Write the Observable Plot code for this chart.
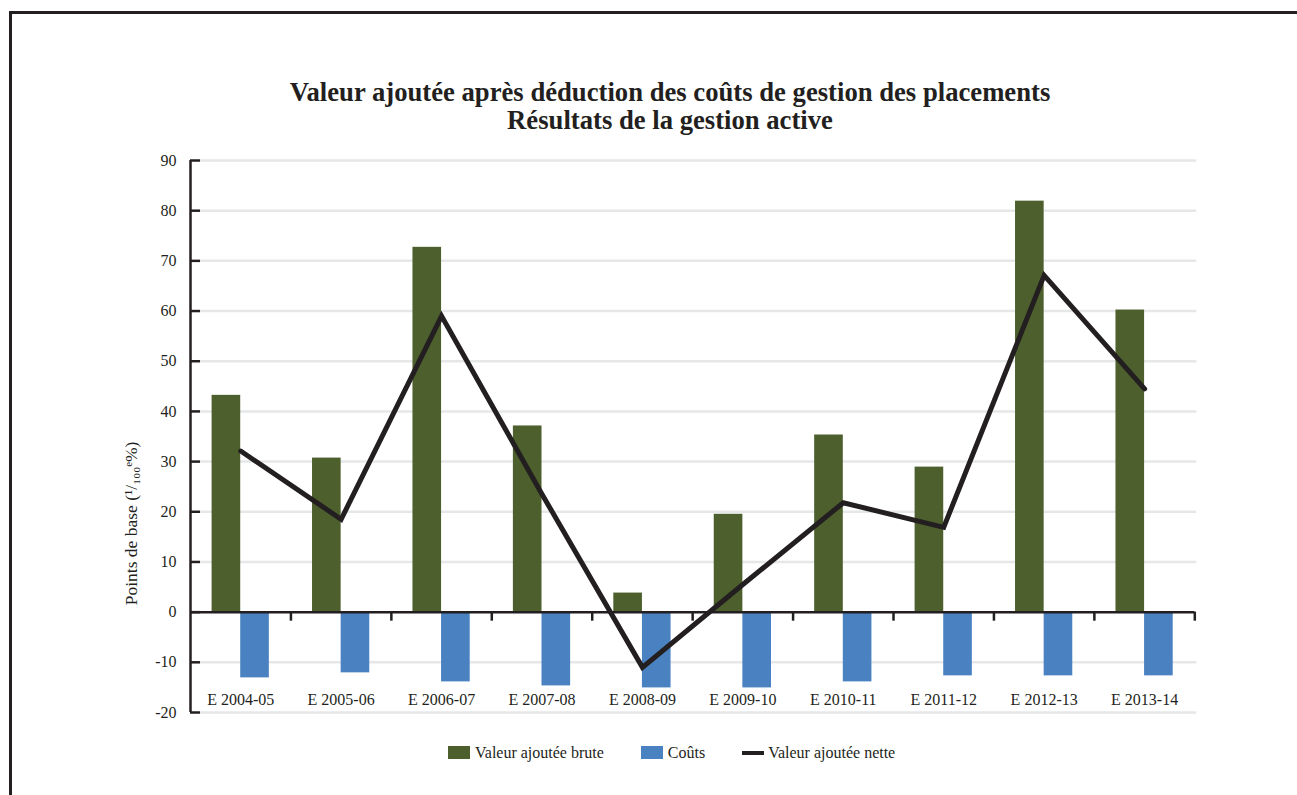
<!DOCTYPE html>
<html>
<head>
<meta charset="utf-8">
<script src="https://cdn.jsdelivr.net/npm/d3@7"></script>
<script src="https://cdn.jsdelivr.net/npm/@observablehq/plot@0.6"></script>
<style>
  html, body { margin: 0; padding: 0; background: #fff; }
  body { width: 1297px; height: 795px; position: relative; overflow: hidden; font-family: "Liberation Serif", "Times New Roman", "DejaVu Serif", serif; color: #231f20; }
  #frame { position: absolute; left: 9px; top: 11px; right: -10px; bottom: -10px; border-top: 3px solid #231f20; border-left: 3px solid #231f20; }
  #title { position: absolute; left: 0; top: 78px; width: 1340px; text-align: center; font-weight: bold; font-size: 27px; line-height: 28px; transform-origin: 670px 0; white-space: nowrap; }
  #chart { position: absolute; left: 0; top: 140px; }
  #legend { position: absolute; left: 448px; top: 744px; display: flex; align-items: center; font-size: 16px; height: 17px; white-space: nowrap; }
  .item { display: flex; align-items: center; margin-right: 37px; }
  .sw { width: 22px; height: 13px; margin-right: 5px; }
  .ln { width: 22px; height: 4px; margin-right: 4px; background: #231f20; }
</style>
</head>
<body>
<div id="frame"></div>
<div id="title"><div>Valeur ajoutée après déduction des coûts de gestion des placements</div><div>Résultats de la gestion active</div></div>
<div id="chart"></div>
<div id="legend"></div>
<script>
// ---- Data ----
const categories = ["E 2004-05", "E 2005-06", "E 2006-07", "E 2007-08", "E 2008-09", "E 2009-10", "E 2010-11", "E 2011-12", "E 2012-13", "E 2013-14"];
const brute = [43.2, 30.7, 72.7, 37.1, 3.8, 19.5, 35.3, 28.9, 81.9, 60.2];
const couts = [-13.1, -12.1, -13.9, -14.7, -15.1, -15.1, -13.9, -12.7, -12.7, -12.7];
const nette = [32.1, 18.5, 59.0, 23.5, -11.0, 5.5, 21.8, 16.9, 67.1, 44.5];
const yTicks = [-20, -10, 0, 10, 20, 30, 40, 50, 60, 70, 80, 90];
const seriesNames = ["Valeur ajoutée brute", "Coûts", "Valeur ajoutée nette"];
const yLabel = "Points de base (¹/₁₀₀ᵉ%)";

// ---- Styles ----
const GREEN = "#4c5f2d", BLUE = "#4a81c1", INK = "#231f20", GRID = "#e6e7e8";
const FONT = "'Liberation Serif', 'Times New Roman', 'DejaVu Serif', serif";
const half = 0.285;

const rows = categories.map((c, i) => ({i, cat: c, brute: brute[i], couts: couts[i], nette: nette[i]}));
const idx = rows.map(d => d.i);

const chart = Plot.plot({
  width: 1297,
  height: 600,
  marginLeft: 190,
  marginRight: 102.7,
  marginTop: 20,
  marginBottom: 28,
  x: {type: "linear", domain: [-0.5, categories.length - 0.5], axis: null},
  y: {domain: [-20, 90], axis: null},
  style: {fontFamily: FONT, fontSize: "16px", color: INK, background: "transparent", overflow: "visible"},
  marks: [
    Plot.ruleY(yTicks.filter(d => d !== 0), {y: d => d, x1: -0.4, x2: categories.length - 0.48, stroke: GRID, strokeWidth: 2.5}),
    Plot.rect(rows, {x1: d => d.i - half, x2: d => d.i, y1: 0, y2: "brute", fill: GREEN}),
    Plot.rect(rows, {x1: d => d.i, x2: d => d.i + half, y1: 0, y2: "couts", fill: BLUE}),
    Plot.ruleY([0], {x1: -0.5, x2: categories.length - 0.5, stroke: INK, strokeWidth: 2.5}),
    Plot.ruleX(idx, {x: d => d + 0.5, y1: 0, y2: -1.8, stroke: INK, strokeWidth: 2.5}),
    Plot.ruleX([-0.5], {y1: -20, y2: 90, stroke: INK, strokeWidth: 2.5}),
    Plot.axisY({ticks: yTicks, tickFormat: d => String(d), tickSize: 10, dx: 10, tickPadding: 14, strokeWidth: 2.5, stroke: INK, fill: INK, label: null, fontSize: 16, fontFamily: FONT}),
    Plot.axisX({ticks: idx, tickFormat: i => categories[i], tickSize: 0, tickPadding: 0, dy: -19, label: null, fill: INK, fontSize: 16, fontFamily: FONT}),
    Plot.line(rows, {x: "i", y: "nette", stroke: INK, strokeWidth: 5, strokeLinejoin: "miter", strokeMiterlimit: 10}),
    Plot.text([yLabel], {frameAnchor: "left", rotate: -90, dx: -59, dy: 87, textAnchor: "middle", fill: INK, fontSize: 17.5, fontFamily: FONT})
  ]
});
document.getElementById("chart").appendChild(chart);

// ---- Title condensing (fit reference width) ----
const ctx = document.createElement("canvas").getContext("2d");
ctx.font = "bold 27px 'Liberation Serif'";
const w = ctx.measureText("Valeur ajoutée après déduction des coûts de gestion des placements").width;
document.getElementById("title").style.transform = `scaleX(${761 / w})`;

// ---- Legend ----
const legend = document.getElementById("legend");
const swatches = [{type: "sw", color: GREEN}, {type: "sw", color: BLUE}, {type: "ln", color: INK}];
seriesNames.forEach((name, k) => {
  const item = document.createElement("div");
  item.className = "item";
  const s = document.createElement("span");
  s.className = swatches[k].type;
  s.style.background = swatches[k].color;
  const t = document.createElement("span");
  t.textContent = name;
  item.appendChild(s); item.appendChild(t);
  legend.appendChild(item);
});
</script>
</body>
</html>
